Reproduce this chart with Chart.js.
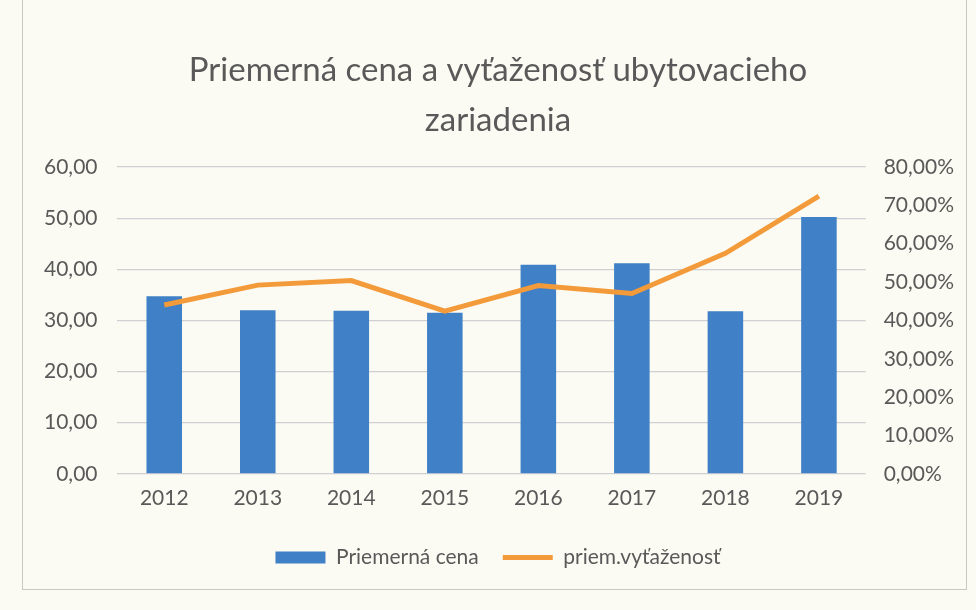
<!DOCTYPE html>
<html>
<head>
<meta charset="utf-8">
<script src="https://cdn.jsdelivr.net/npm/chart.js@4.4.0/dist/chart.umd.min.js"></script>
<style>
    html, body {
        margin: 0;
        padding: 0;
        background: #fbfbf3;
    }
    #frame {
        position: absolute;
        left: 22px;
        top: -2px;
        width: 943px;
        height: 590px;
        border: 1px solid #c9c9c4;
    }
    #wrap {
        position: absolute;
        left: 0;
        top: 0;
        width: 976px;
        height: 610px;
    }
</style>
</head>
<body>
<div id="frame"></div>
<div id="wrap"><canvas id="chart" width="976" height="610"></canvas></div>
<script>
const years = ["2012", "2013", "2014", "2015", "2016", "2017", "2018", "2019"];
const avgPrice = [34.7, 32.0, 31.9, 31.5, 40.9, 41.2, 31.8, 50.2];
const occupancy = [44.0, 49.2, 50.4, 42.4, 49.1, 47.0, 57.5, 72.4];

const priceTicks = [0, 10, 20, 30, 40, 50, 60];
const percentTicks = [0, 10, 20, 30, 40, 50, 60, 70, 80];

const titleLines = ["Priemerná cena a vyťaženosť ubytovacieho", "zariadenia"];

const fontFamily = "Lato, 'Open Sans', sans-serif";
const textColor = "#595959";

function commaNumber(value) {
    return value.toFixed(2).replace(".", ",");
}

new Chart(document.getElementById("chart"), {
    data: {
        labels: years,
        datasets: [
            {
                type: "line",
                label: "priem.vyťaženosť",
                data: occupancy,
                yAxisID: "yRight",
                borderColor: "#f39b3a",
                backgroundColor: "#f39b3a",
                borderWidth: 5,
                pointRadius: 0,
                pointStyle: "line",
                tension: 0,
                order: 1,
            },
            {
                type: "bar",
                label: "Priemerná cena",
                data: avgPrice,
                yAxisID: "yLeft",
                backgroundColor: "#3f80c6",
                borderWidth: 0,
                categoryPercentage: 1,
                barPercentage: 0.38,
                pointStyle: "rect",
                order: 2,
            },
        ],
    },
    options: {
        responsive: false,
        animation: false,
        layout: {
            padding: { left: 24, right: 4, top: 46, bottom: 32 },
        },
        plugins: {
            title: {
                display: true,
                text: titleLines,
                color: textColor,
                font: { family: fontFamily, size: 33, weight: "normal", lineHeight: 1.5 },
                padding: { top: 0, bottom: 22 },
            },
            legend: {
                position: "bottom",
                reverse: true,
                labels: {
                    color: textColor,
                    font: { family: fontFamily, size: 21 },
                    usePointStyle: true,
                    pointStyleWidth: 50,
                    boxHeight: 12,
                    padding: 24,
                },
            },
            tooltip: { enabled: false },
        },
        scales: {
            x: {
                grid: { display: false, drawTicks: false },
                border: { display: false },
                ticks: {
                    color: textColor,
                    font: { family: fontFamily, size: 21 },
                    padding: 12,
                },
            },
            yLeft: {
                position: "left",
                min: 0,
                max: 60,
                afterBuildTicks: (axis) => {
                    axis.ticks = priceTicks.map((v) => ({ value: v }));
                },
                grid: { color: "#cfcfd4", lineWidth: 1.2, drawTicks: false },
                border: { display: false },
                ticks: {
                    color: textColor,
                    font: { family: fontFamily, size: 21 },
                    padding: 20,
                    callback: (v) => commaNumber(v),
                },
            },
            yRight: {
                position: "right",
                min: 0,
                max: 80,
                afterBuildTicks: (axis) => {
                    axis.ticks = percentTicks.map((v) => ({ value: v }));
                },
                grid: { display: false, drawTicks: false },
                border: { display: false },
                ticks: {
                    color: textColor,
                    font: { family: fontFamily, size: 21 },
                    padding: 18,
                    callback: (v) => commaNumber(v) + "%",
                },
            },
        },
    },
});
</script>
</body>
</html>
